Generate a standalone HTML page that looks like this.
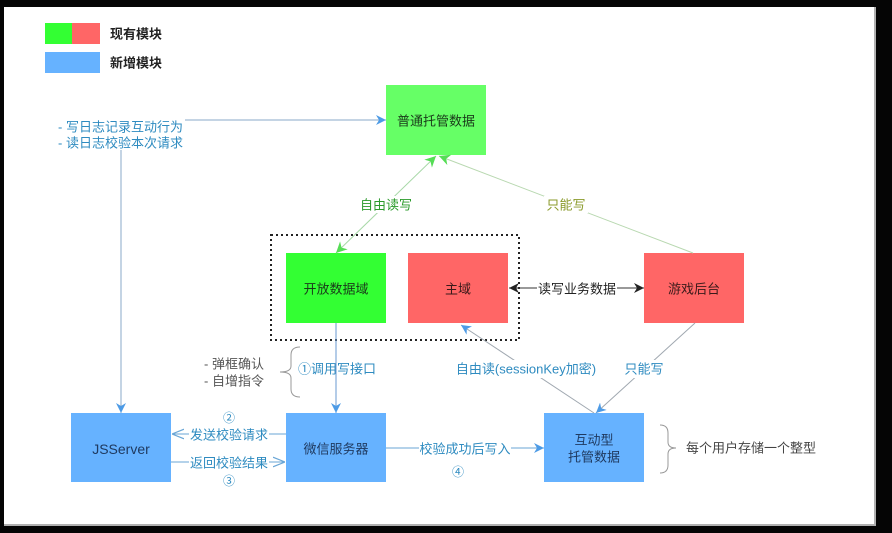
<!DOCTYPE html>
<html><head><meta charset="utf-8"><style>
html,body{margin:0;padding:0;background:#000;}
svg{display:block;}
text{font-family:"Liberation Sans","Noto Sans CJK SC",sans-serif;}
</style></head><body>
<svg width="892" height="533" viewBox="0 0 892 533" xmlns="http://www.w3.org/2000/svg">
<defs>
<marker id="ab" viewBox="0 0 10 10" refX="10" refY="5" markerWidth="10" markerHeight="10" markerUnits="userSpaceOnUse" orient="auto-start-reverse"><path d="M0,0 L10,5 L0,10 L3,5 z" fill="#4d9be6"/></marker>
<marker id="ag" viewBox="0 0 10 10" refX="10" refY="5" markerWidth="11" markerHeight="11" markerUnits="userSpaceOnUse" orient="auto-start-reverse"><path d="M0,0 L10,5 L0,10 L3,5 z" fill="#55dd55"/></marker>
<marker id="ak" viewBox="0 0 10 10" refX="10" refY="5" markerWidth="10" markerHeight="10" markerUnits="userSpaceOnUse" orient="auto-start-reverse"><path d="M0,0 L10,5 L0,10 L3,5 z" fill="#222"/></marker>
<marker id="ao" viewBox="0 0 10 10" refX="10" refY="5" markerWidth="12" markerHeight="12" markerUnits="userSpaceOnUse" orient="auto"><path d="M0,1 L10,5 L0,9" fill="none" stroke="#6aa6d6" stroke-width="1"/></marker>
</defs>
<rect x="0" y="0" width="892" height="533" fill="#050505"/>
<rect x="4" y="7" width="872" height="519" fill="#b0b0b0"/>
<rect x="4" y="7" width="870" height="517" fill="#ffffff"/>

<!-- legend -->
<rect x="45" y="23" width="27" height="21" fill="#33ff33"/>
<rect x="72" y="23" width="28" height="21" fill="#ff6666"/>
<rect x="45" y="52" width="55" height="21" fill="#66b2ff"/>
<text x="110" y="34" font-size="13" font-weight="bold" fill="#222" dominant-baseline="central">现有模块</text>
<text x="110" y="63" font-size="13" font-weight="bold" fill="#222" dominant-baseline="central">新增模块</text>

<!-- log labels -->
<text x="58" y="127" font-size="13" fill="#2e8bc0" dominant-baseline="central">- 写日志记录互动行为</text>
<text x="58" y="143" font-size="13" fill="#2e8bc0" dominant-baseline="central">- 读日志校验本次请求</text>
<line x1="185" y1="120" x2="386" y2="120" stroke="#8aa8c8" stroke-width="1" marker-end="url(#ab)"/>
<line x1="121" y1="150" x2="121" y2="413" stroke="#8aa8c8" stroke-width="1" marker-end="url(#ab)"/>

<!-- dotted box -->
<rect x="271" y="235" width="248" height="105" fill="none" stroke="#222" stroke-width="2" stroke-dasharray="2,3"/>

<!-- nodes -->
<rect x="386" y="85" width="100" height="70" fill="#66ff66"/>
<text x="436" y="121" font-size="13" fill="#1a3a1a" text-anchor="middle" dominant-baseline="central">普通托管数据</text>
<rect x="286" y="253" width="100" height="70" fill="#33ff33"/>
<text x="336" y="289" font-size="13" fill="#1a3a1a" text-anchor="middle" dominant-baseline="central">开放数据域</text>
<rect x="408" y="253" width="100" height="70" fill="#ff6666"/>
<text x="458" y="289" font-size="13" fill="#3a1a1a" text-anchor="middle" dominant-baseline="central">主域</text>
<rect x="644" y="253" width="100" height="70" fill="#ff6666"/>
<text x="694" y="289" font-size="13" fill="#3a1a1a" text-anchor="middle" dominant-baseline="central">游戏后台</text>
<rect x="71" y="413" width="100" height="69" fill="#66b2ff"/>
<text x="121" y="449" font-size="14" fill="#1f3a60" text-anchor="middle" dominant-baseline="central">JSServer</text>
<rect x="286" y="413" width="100" height="69" fill="#66b2ff"/>
<text x="336" y="449" font-size="13" fill="#1f3a60" text-anchor="middle" dominant-baseline="central">微信服务器</text>
<rect x="544" y="413" width="100" height="69" fill="#66b2ff"/>
<text x="594" y="440" font-size="13" fill="#1f3a60" text-anchor="middle" dominant-baseline="central">互动型</text>
<text x="594" y="457" font-size="13" fill="#1f3a60" text-anchor="middle" dominant-baseline="central">托管数据</text>

<!-- green connectors -->
<line x1="336" y1="253" x2="436" y2="156" stroke="#a8d8a8" stroke-width="1" marker-start="url(#ag)" marker-end="url(#ag)"/>
<rect x="358" y="196" width="56" height="17" fill="#fff"/>
<text x="386" y="205" font-size="13" fill="#2a9a2a" text-anchor="middle" dominant-baseline="central">自由读写</text>
<line x1="693" y1="253" x2="439" y2="156" stroke="#b8d8b0" stroke-width="1" marker-end="url(#ag)"/>
<rect x="544" y="196" width="44" height="17" fill="#fff"/>
<text x="566" y="205" font-size="13" fill="#8a9a2a" text-anchor="middle" dominant-baseline="central">只能写</text>

<!-- black bidirectional -->
<line x1="509" y1="288" x2="644" y2="288" stroke="#333" stroke-width="1" marker-start="url(#ak)" marker-end="url(#ak)"/>
<rect x="537" y="280" width="80" height="17" fill="#fff"/>
<text x="577" y="289" font-size="13" fill="#222" text-anchor="middle" dominant-baseline="central">读写业务数据</text>

<!-- open data -> wechat -->
<text x="298" y="369" font-size="13" fill="#2e8bc0" dominant-baseline="central">①调用写接口</text>
<line x1="336" y1="323" x2="336" y2="413" stroke="#6a9ad0" stroke-width="1" marker-end="url(#ab)"/>
<path d="M300,347 Q291,347 291,355 L291,366 Q291,372 280,372 Q291,372 291,378 L291,389 Q291,397 300,397" fill="none" stroke="#999" stroke-width="1"/>
<text x="204" y="364" font-size="13" fill="#555" dominant-baseline="central">- 弹框确认</text>
<text x="204" y="381" font-size="13" fill="#555" dominant-baseline="central">- 自增指令</text>

<!-- JSServer <-> wechat -->
<line x1="286" y1="434" x2="172" y2="434" stroke="#6aa6d6" stroke-width="1" marker-end="url(#ao)"/>
<rect x="189" y="426" width="80" height="17" fill="#fff"/>
<text x="229" y="435" font-size="13" fill="#2e8bc0" text-anchor="middle" dominant-baseline="central">发送校验请求</text>
<text x="229" y="418" font-size="12" fill="#2e8bc0" text-anchor="middle" dominant-baseline="central">②</text>
<line x1="171" y1="462" x2="285" y2="462" stroke="#6aa6d6" stroke-width="1" marker-end="url(#ao)"/>
<rect x="189" y="454" width="80" height="17" fill="#fff"/>
<text x="229" y="463" font-size="13" fill="#2e8bc0" text-anchor="middle" dominant-baseline="central">返回校验结果</text>
<text x="229" y="481" font-size="12" fill="#2e8bc0" text-anchor="middle" dominant-baseline="central">③</text>

<!-- wechat -> interactive -->
<line x1="386" y1="448" x2="544" y2="448" stroke="#6aa6d6" stroke-width="1" marker-end="url(#ab)"/>
<rect x="419" y="440" width="92" height="17" fill="#fff"/>
<text x="465" y="449" font-size="13" fill="#2e8bc0" text-anchor="middle" dominant-baseline="central">校验成功后写入</text>
<text x="458" y="472" font-size="12" fill="#2e8bc0" text-anchor="middle" dominant-baseline="central">④</text>

<!-- interactive -> main -->
<line x1="594" y1="413" x2="461" y2="325" stroke="#a0a8b0" stroke-width="1" marker-end="url(#ab)"/>
<rect x="454" y="360" width="145" height="18" fill="#fff"/>
<text x="526" y="369" font-size="13" fill="#2e8bc0" text-anchor="middle" dominant-baseline="central">自由读(sessionKey加密)</text>

<!-- game -> interactive -->
<line x1="695" y1="323" x2="596" y2="413" stroke="#a0a8b0" stroke-width="1" marker-end="url(#ab)"/>
<rect x="623" y="360" width="42" height="18" fill="#fff"/>
<text x="644" y="369" font-size="13" fill="#2e8bc0" text-anchor="middle" dominant-baseline="central">只能写</text>

<!-- right brace -->
<path d="M660,425 Q668,425 668,433 L668,442 Q668,448 676,448 Q668,448 668,454 L668,465 Q668,473 660,473" fill="none" stroke="#999" stroke-width="1"/>
<text x="686" y="448" font-size="13" fill="#444" dominant-baseline="central">每个用户存储一个整型</text>
</svg>
</body></html>
